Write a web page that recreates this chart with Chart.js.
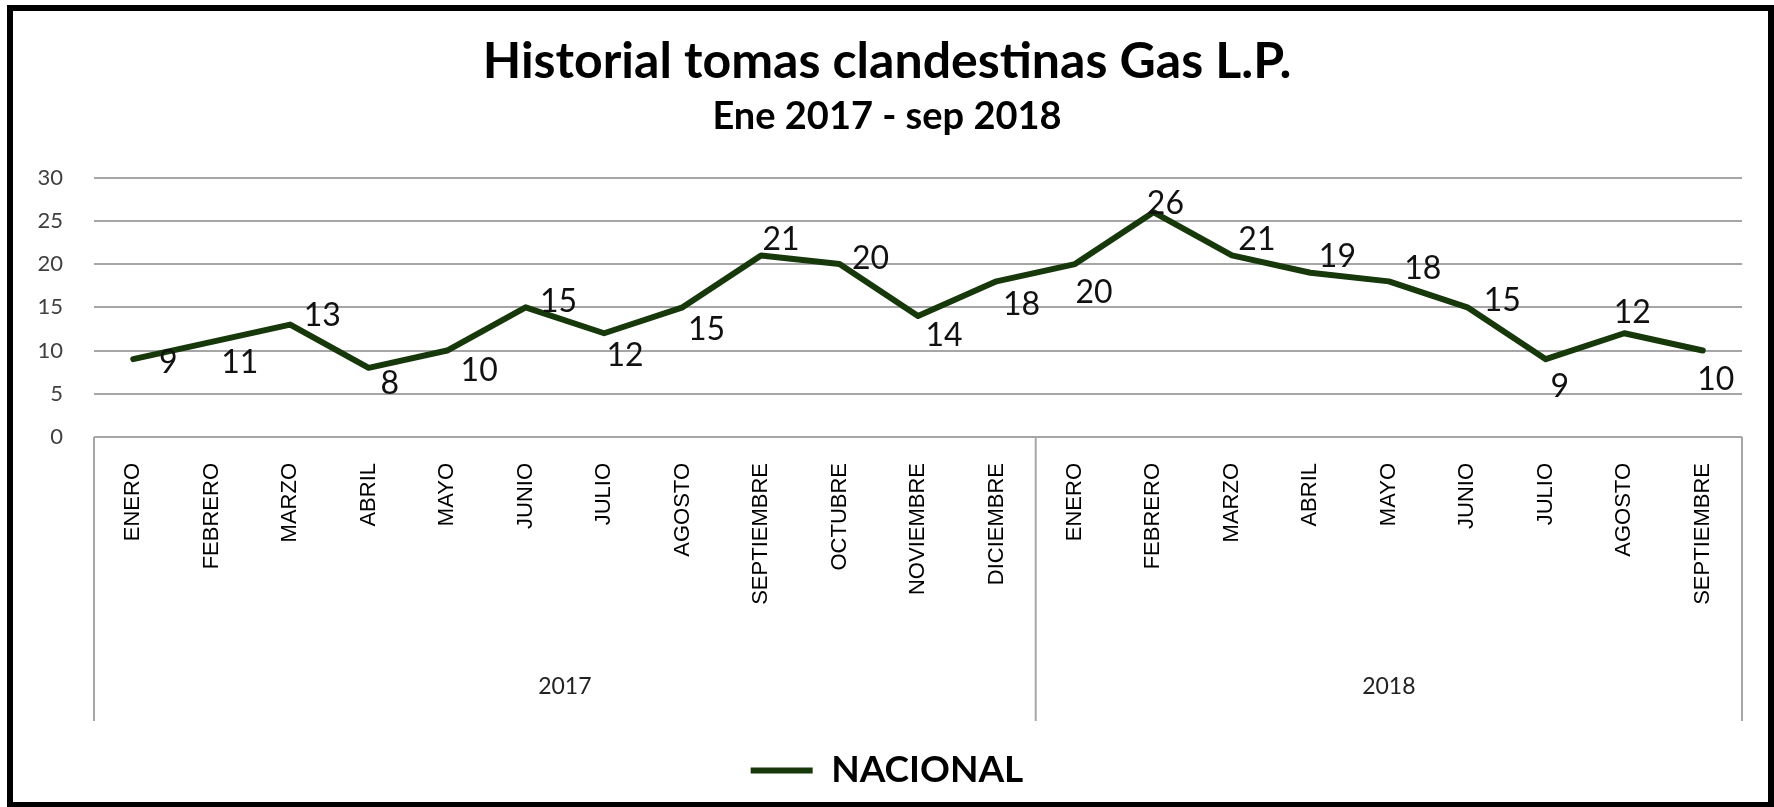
<!DOCTYPE html>
<html>
<head>
<meta charset="utf-8">
<script src="https://cdn.jsdelivr.net/npm/chart.js@4.4.1/dist/chart.umd.min.js"></script>
<style>
  html, body { margin: 0; padding: 0; background: #fff; }
  #wrap { position: relative; width: 1774px; height: 807px; overflow: hidden; }
  #lineChart { display: block; }
  #frame { position: absolute; left: 7px; top: 5px; right: 0; bottom: 0; border: solid #000; border-width: 6px 6px 5px 6px; pointer-events: none; }
</style>
</head>
<body>
<div id="wrap">
  <canvas id="lineChart" width="1774" height="807"></canvas>
  <div id="frame"></div>
</div>
<script>
// Historial tomas clandestinas Gas L.P. (Ene 2017 - sep 2018)

const years = ['2017', '2018'];
const months2017 = ['ENERO', 'FEBRERO', 'MARZO', 'ABRIL', 'MAYO', 'JUNIO', 'JULIO', 'AGOSTO', 'SEPTIEMBRE', 'OCTUBRE', 'NOVIEMBRE', 'DICIEMBRE'];
const months2018 = ['ENERO', 'FEBRERO', 'MARZO', 'ABRIL', 'MAYO', 'JUNIO', 'JULIO', 'AGOSTO', 'SEPTIEMBRE'];
const nacional2017 = [9, 11, 13, 8, 10, 15, 12, 15, 21, 20, 14, 18];
const nacional2018 = [20, 26, 21, 19, 18, 15, 9, 12, 10];

const categories = months2017.concat(months2018);
const nacional = nacional2017.concat(nacional2018);
const groups = [
    { label: years[0], count: months2017.length },
    { label: years[1], count: months2018.length }
];

const GREEN = '#17380b';
const GRID = '#a6a6a6';

// Excel labels were dragged by hand, so each one has its own nudge (px) from its point
const labelNudges = [
    [35, 4], [28, 21], [32, -9], [21, 16], [32, 20], [33, -6], [21, 22], [24, 22], [20, -16], [31, -5], [26, 20], [25, 23],
    [19, 29], [12, -8], [25, -16], [27, -16], [34, -13], [35, -7], [14, 28], [8, -21], [13, 29]
];

// Value labels next to each point
const pointLabels = {
    id: 'pointLabels',
    afterDatasetsDraw(chart, args, opts) {
        const ctx = chart.ctx;
        const meta = chart.getDatasetMeta(0);
        const values = chart.data.datasets[0].data;
        ctx.save();
        ctx.font = opts.font;
        ctx.fillStyle = opts.color;
        ctx.textAlign = 'center';
        ctx.textBaseline = 'middle';
        meta.data.forEach(function (pt, i) {
            const n = opts.nudges[i] || [0, 0];
            ctx.fillText(String(values[i]), pt.x + n[0], pt.y + n[1]);
        });
        ctx.restore();
    }
};

// Second row of the category axis: year boxes under the months
const yearGroups = {
    id: 'yearGroups',
    afterDraw(chart, args, opts) {
        const { ctx, chartArea, scales: { x } } = chart;
        const slot = x.getPixelForValue(1) - x.getPixelForValue(0);
        const top = chartArea.bottom;
        const bottom = top + opts.height;
        ctx.save();
        ctx.strokeStyle = opts.lineColor;
        ctx.lineWidth = opts.lineWidth;
        ctx.font = opts.font;
        ctx.fillStyle = opts.color;
        ctx.textAlign = 'center';
        ctx.textBaseline = 'middle';

        let start = 0;
        const edges = [x.getPixelForValue(0) - slot / 2];
        groups.forEach(function (g) {
            const end = start + g.count;
            const left = x.getPixelForValue(start) - slot / 2;
            const right = x.getPixelForValue(end - 1) + slot / 2;
            edges.push(right);
            ctx.fillText(g.label, (left + right) / 2, top + opts.labelOffset);
            start = end;
        });
        edges.forEach(function (px) {
            ctx.beginPath();
            ctx.moveTo(px, top);
            ctx.lineTo(px, bottom);
            ctx.stroke();
        });
        ctx.restore();
    }
};

document.addEventListener('DOMContentLoaded', function () {
    const ctx = document.getElementById('lineChart').getContext('2d');
    new Chart(ctx, {
        type: 'line',
        data: {
            labels: categories,
            datasets: [{
                label: 'NACIONAL',
                data: nacional,
                borderColor: GREEN,
                backgroundColor: GREEN,
                borderWidth: 6,
                pointRadius: 0,
                pointHoverRadius: 0,
                tension: 0,
                borderJoinStyle: 'round',
                borderCapStyle: 'round'
            }]
        },
        options: {
            responsive: false,
            animation: false,
            layout: { padding: { left: 32, right: 32, top: 0, bottom: 8 } },
            plugins: {
                title: {
                    display: true,
                    text: 'Historial tomas clandestinas Gas L.P.',
                    color: '#000',
                    font: { family: 'Lato', size: 50, weight: 'bold', lineHeight: 1.2 },
                    padding: { top: 32, bottom: 0 }
                },
                subtitle: {
                    display: true,
                    text: 'Ene 2017 - sep 2018',
                    color: '#000',
                    font: { family: 'Lato', size: 38, weight: 'bold', lineHeight: 1.2 },
                    padding: { top: 2, bottom: 38 }
                },
                legend: {
                    position: 'bottom',
                    labels: {
                        color: '#000',
                        font: { family: 'Lato', size: 37, weight: 'bold' },
                        boxWidth: 62,
                        boxHeight: 6,
                        padding: 10,
                        generateLabels: function (chart) {
                            return Chart.defaults.plugins.legend.labels.generateLabels(chart)
                                .map(function (item) { item.lineWidth = 0; return item; });
                        }
                    }
                },
                tooltip: { enabled: false },
                pointLabels: { font: '32px Lato', color: '#111', nudges: labelNudges },
                yearGroups: { height: 284, labelOffset: 250, font: '23px Lato', color: '#222', lineColor: GRID, lineWidth: 2 }
            },
            scales: {
                x: {
                    offset: true,
                    grid: { display: false },
                    border: { display: false },
                    ticks: {
                        color: '#000',
                        font: { family: 'Liberation Sans', size: 22 },
                        minRotation: 90,
                        maxRotation: 90,
                        autoSkip: false,
                        padding: 18
                    },
                    afterFit: function (scale) { scale.height = 305; }
                },
                y: {
                    min: 0,
                    max: 30,
                    ticks: {
                        stepSize: 5,
                        color: '#404040',
                        font: { family: 'Lato', size: 22 },
                        padding: 31
                    },
                    grid: { color: GRID, lineWidth: 2, drawTicks: false },
                    border: { display: false },
                    afterFit: function (scale) { scale.width = 62; }
                }
            }
        },
        plugins: [pointLabels, yearGroups]
    });
});
</script>
</body>
</html>
